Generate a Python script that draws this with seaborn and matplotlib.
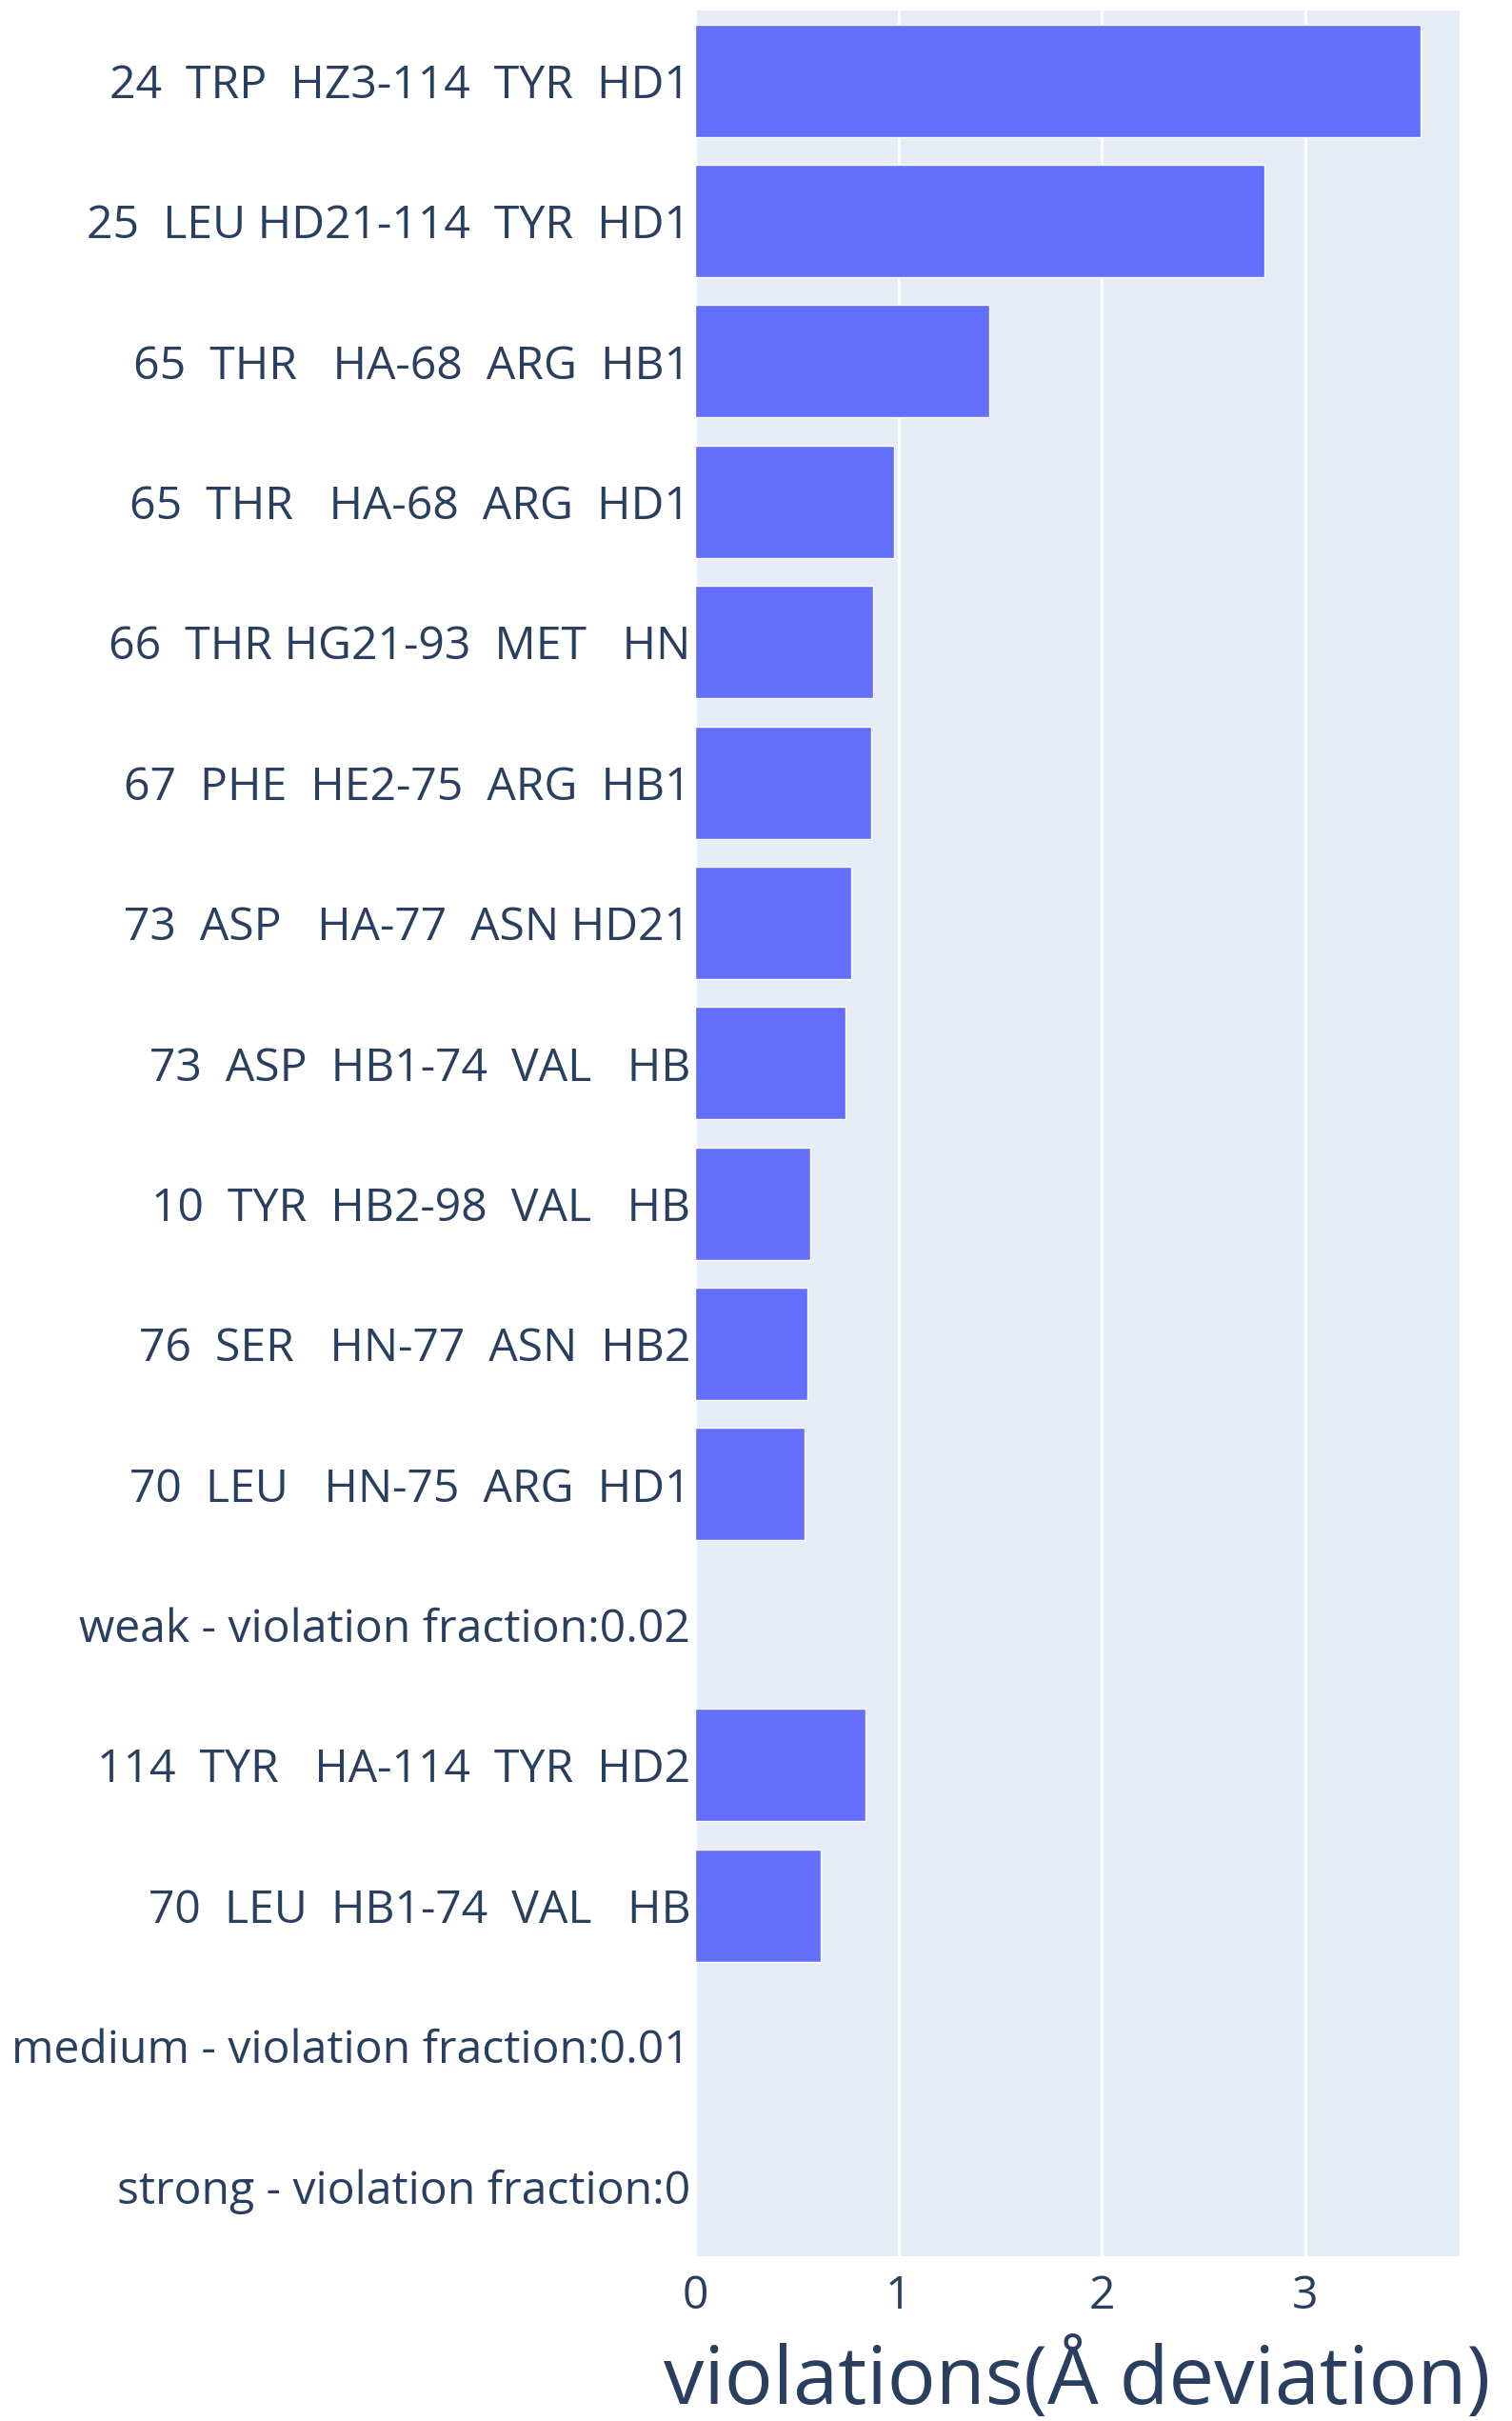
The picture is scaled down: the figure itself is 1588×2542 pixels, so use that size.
import pandas as pd
import matplotlib.pyplot as plt
import seaborn as sns

# restraint labels (top to bottom) and violation values
labels = [
    "24  TRP  HZ3-114  TYR  HD1",
    "25  LEU HD21-114  TYR  HD1",
    "65  THR   HA-68  ARG  HB1",
    "65  THR   HA-68  ARG  HD1",
    "66  THR HG21-93  MET   HN",
    "67  PHE  HE2-75  ARG  HB1",
    "73  ASP   HA-77  ASN HD21",
    "73  ASP  HB1-74  VAL   HB",
    "10  TYR  HB2-98  VAL   HB",
    "76  SER   HN-77  ASN  HB2",
    "70  LEU   HN-75  ARG  HD1",
    "weak - violation fraction:0.02",
    "114  TYR   HA-114  TYR  HD2",
    "70  LEU  HB1-74  VAL   HB",
    "medium - violation fraction:0.01",
    "strong - violation fraction:0",
]
violations = [3.57, 2.80, 1.445, 0.98, 0.877, 0.867, 0.766, 0.742,
              0.567, 0.551, 0.538, 0.0, 0.839, 0.618, 0.0, 0.0]
x_ticks = [0, 1, 2, 3]

df = pd.DataFrame({"label": labels, "violation": violations})

sns.set_style("darkgrid", {"axes.facecolor": "#E5ECF6", "grid.color": "white"})
plt.rcParams["font.family"] = ["Open Sans", "DejaVu Sans"]

text_col = "#2a3f5f"

fig = plt.figure(figsize=(15.88, 25.42), dpi=100)
ax = fig.add_axes([730 / 1588, 1 - 2369 / 2542, (1533 - 730) / 1588, (2369 - 11) / 2542])

sns.barplot(data=df, x="violation", y="label", orient="h", color="#636efa",
            saturation=1, width=0.8, ax=ax, order=labels)

ax.set_xlim(0, 3.76)
ax.set_xticks(x_ticks)
ax.xaxis.grid(True, color="white", linewidth=2.2)
ax.yaxis.grid(False)
for s in ax.spines.values():
    s.set_visible(False)

ax.tick_params(axis="both", length=0, colors=text_col, labelsize=34.7)
ax.tick_params(axis="y", pad=3.5)
ax.tick_params(axis="x", pad=13)
ax.set_ylabel("")
ax.set_xlabel("violations(Å deviation)", fontsize=61, color=text_col, labelpad=16)

fig.savefig("out.png", dpi=100)
